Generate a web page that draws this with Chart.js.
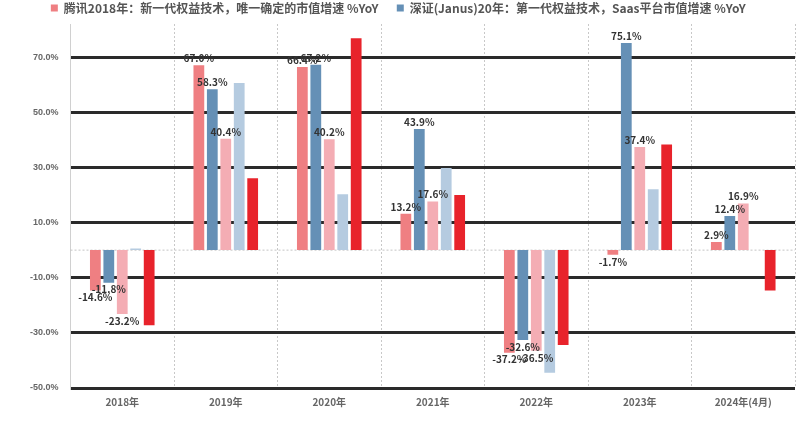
<!DOCTYPE html>
<html>
<head>
<meta charset="utf-8">
<script src="https://cdn.jsdelivr.net/npm/chart.js@4.4.1/dist/chart.umd.min.js"></script>
<style>
  html, body { margin: 0; padding: 0; background: #fff; }
  #wrap { width: 800px; height: 421px; }
</style>
</head>
<body>
<div id="wrap"><canvas id="chart"></canvas></div>
<script>
// categories (years)
var years = ['2018年', '2019年', '2020年', '2021年', '2022年', '2023年', '2024年(4月)'];

// series names
var seriesNames = [
  '腾讯2018年：新一代权益技术，唯一确定的市值增速 %YoY',
  '深证(Janus)20年：第一代权益技术，Saas平台市值增速 %YoY',
  '恒生科技：第一代权益技术，平台市值增速 %YoY',
  '纳斯达克：权益技术，市值增速 %YoY',
  '沪深300：市值增速 %YoY'
];

// values, % YoY
var salmonVals = [-14.6, 67.0, 66.4, 13.2, -37.2, -1.7, 2.9];
var blueVals   = [-11.8, 58.3, 67.2, 43.9, -32.6, 75.1, 12.4];
var pinkVals   = [-23.2, 40.4, 40.2, 17.6, -36.5, 37.4, 16.9];
var lightVals  = [0.6, 60.6, 20.3, 29.8, -44.5, 22.1, null];
var redVals    = [-27.2, 26.1, 76.8, 20.0, -34.4, 38.3, -14.6];

// y tick values
var yTicks = [-50, -30, -10, 10, 30, 50, 70];

var colors = ['#ef7f82', '#6590b6', '#f4adb4', '#b5cbe0', '#e8232b'];
var allVals = [salmonVals, blueVals, pinkVals, lightVals, redVals];

var ctx = document.getElementById('chart').getContext('2d');

// value labels on first three series, plus dotted zero line
var extras = {
  id: 'extras',
  beforeDatasetsDraw: function (chart) {
    var c = chart.ctx, area = chart.chartArea;
    var y0 = chart.scales.y.getPixelForValue(0);
    c.save();
    c.strokeStyle = '#c4c4c4';
    c.lineWidth = 1;
    c.setLineDash([2, 2]);
    c.beginPath();
    c.moveTo(area.left, y0);
    c.lineTo(area.right, y0);
    c.stroke();
    c.restore();
  },
  afterDatasetsDraw: function (chart) {
    var c = chart.ctx;
    c.save();
    c.font = 'bold 10px "Noto Sans CJK SC"';
    c.fillStyle = '#333';
    c.textAlign = 'center';
    for (var d = 0; d < 3; d++) {
      var meta = chart.getDatasetMeta(d);
      meta.data.forEach(function (bar, i) {
        var v = chart.data.datasets[d].data[i];
        if (v === null) return;
        var txt = v.toFixed(1) + '%';
        if (v >= 0) {
          c.textBaseline = 'bottom';
          c.fillText(txt, bar.x, bar.y - 2);
        } else {
          c.textBaseline = 'top';
          c.fillText(txt, bar.x, bar.y + 2);
        }
      });
    }
    c.restore();
  }
};

var chart = new Chart(ctx, {
  type: 'bar',
  data: {
    labels: years,
    datasets: allVals.map(function (vals, k) {
      return {
        label: seriesNames[k],
        data: vals,
        backgroundColor: colors[k],
        categoryPercentage: 0.65,
        barPercentage: 0.8
      };
    })
  },
  options: {
    responsive: true,
    maintainAspectRatio: false,
    animation: false,
    layout: { padding: { left: 18, right: 5, top: 0, bottom: 5 } },
    plugins: {
      legend: {
        position: 'top',
        labels: {
          boxWidth: 7,
          boxHeight: 7,
          padding: 2,
          color: '#555',
          font: { size: 12, weight: 'bold', family: '"Noto Sans CJK SC"' },
          filter: function (item) { return item.datasetIndex < 2; },
          generateLabels: function (chart) {
            var items = Chart.defaults.plugins.legend.labels.generateLabels(chart);
            items.forEach(function (it) { it.text = it.text + '      '; });
            return items;
          }
        }
      },
      tooltip: { enabled: false }
    },
    scales: {
      x: {
        grid: {
          offset: true,
          color: '#c8c8c8',
          lineWidth: 1,
          drawTicks: false
        },
        border: { display: false, dash: [2, 2] },
        ticks: {
          color: '#666',
          padding: 8,
          font: { size: 10, weight: 'bold', family: '"Noto Sans CJK SC"' }
        }
      },
      y: {
        min: -50,
        max: 82,
        afterBuildTicks: function (scale) {
          scale.ticks = yTicks.map(function (v) { return { value: v }; });
        },
        grid: {
          color: '#2a2a2a',
          lineWidth: 3,
          drawTicks: false
        },
        border: { display: true, color: '#d0d0d0' },
        ticks: {
          color: '#666',
          padding: 12,
          font: { size: 9, weight: 'bold', family: '"Liberation Sans"' },
          callback: function (v) { return v.toFixed(1) + '%'; }
        }
      }
    }
  },
  plugins: [extras]
});
</script>
</body>
</html>
